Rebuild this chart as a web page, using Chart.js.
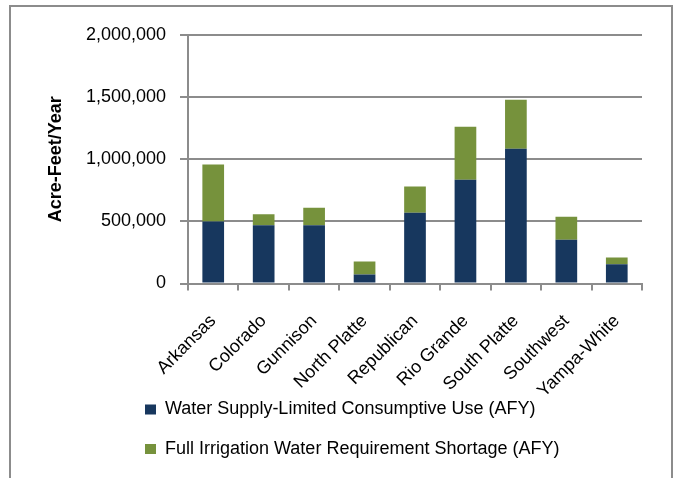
<!DOCTYPE html>
<html>
<head>
<meta charset="utf-8">
<script src="https://cdn.jsdelivr.net/npm/chart.js@4"></script>
<style>
  body{margin:0;background:#fff;}
  #wrap{position:relative;width:675px;height:478px;overflow:hidden;}
  #frame{position:absolute;left:9px;top:5px;width:660px;height:520px;border:2px solid #8c8c8c;}
  canvas{position:absolute;left:0;top:0;}
</style>
</head>
<body>
<div id="wrap">
  <div id="frame"></div>
  <canvas id="c" width="675" height="478"></canvas>
</div>
<script>
// basin data (AFY)
const basins = ["Arkansas","Colorado","Gunnison","North Platte","Republican","Rio Grande","South Platte","Southwest","Yampa-White"];
const supplyLimited = [500000, 468000, 468000, 72000, 570000, 836000, 1085000, 353000, 154000];
const shortage = [458000, 90000, 142000, 105000, 210000, 425000, 393000, 185000, 56000];
const yTicks = [0, 500000, 1000000, 1500000, 2000000];

const navy = "#17375e";
const green = "#76923c";
const grey = "#8c8c8c";
const fontName = "'Liberation Sans', Arial, sans-serif";

// legend rows start under the plot, not at the left edge;
// rotated x labels are allowed to run down next to the legend
const tweakLayout = {
    id: "tweakLayout",
    afterLayout(chart){
        chart.legend.left += 111.5;
        chart.legend.right += 111.5;
        chart.scales.x.bottom += 25;
    }
};

const ctx = document.getElementById("c").getContext("2d");
new Chart(ctx, {
    type: "bar",
    data: {
        labels: basins,
        datasets: [
            {label: "Water Supply-Limited Consumptive Use (AFY)", data: supplyLimited, backgroundColor: navy,
             barPercentage: 0.43, categoryPercentage: 1},
            {label: "Full Irrigation Water Requirement Shortage (AFY)", data: shortage, backgroundColor: green,
             barPercentage: 0.43, categoryPercentage: 1}
        ]
    },
    options: {
        responsive: false,
        animation: false,
        layout: {padding: {left: 12, right: 33, top: 35, bottom: 10}},
        plugins: {
            tooltip: {enabled: false},
            legend: {
                position: "bottom",
                align: "start",
                labels: {boxWidth: 11, boxHeight: 10, padding: 21.5, color: "#000",
                         font: {family: fontName, size: 18}}
            }
        },
        scales: {
            x: {
                stacked: true,
                grid: {drawOnChartArea: false, drawTicks: true, tickLength: 7, color: grey, lineWidth: 2},
                border: {color: grey, width: 2},
                ticks: {color: "#000", minRotation: 45, maxRotation: 45, padding: 20,
                        font: {family: fontName, size: 18}},
                afterFit(s){ s.height = 95.5; }
            },
            y: {
                stacked: true,
                min: 0, max: 2000000,
                afterBuildTicks(s){ s.ticks = yTicks.map(v => ({value: v})); },
                grid: {color: grey, lineWidth: 2, tickLength: 8},
                border: {color: grey, width: 2},
                ticks: {color: "#000", padding: 14, font: {family: fontName, size: 18},
                        callback: v => v.toLocaleString("en-US")},
                title: {display: true, text: "Acre-Feet/Year", color: "#000",
                        font: {family: fontName, size: 18, weight: "bold"}, padding: {top: 33, bottom: 0}},
                afterFit(s){ s.width = 176; }
            }
        }
    },
    plugins: [tweakLayout]
});
</script>
</body>
</html>
